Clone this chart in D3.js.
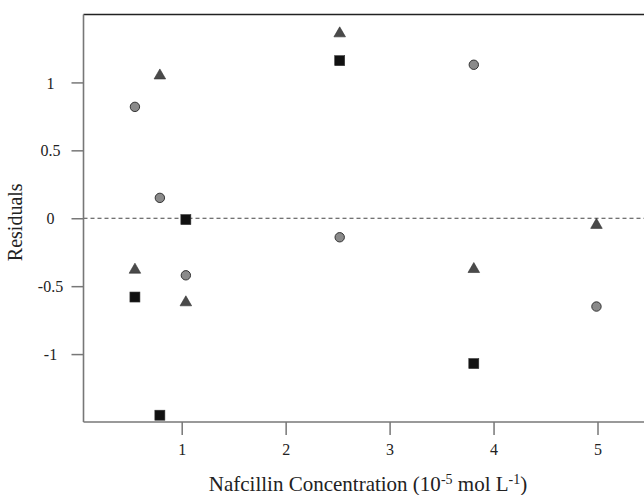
<!DOCTYPE html>
<html>
<head>
<meta charset="utf-8">
<script src="https://cdn.jsdelivr.net/npm/d3@7"></script>
<style>
  html, body { margin: 0; padding: 0; background: #fff; }
  svg { display: block; font-family: "Liberation Serif", "Times New Roman", serif; }
</style>
</head>
<body>
<svg id="chart" width="644" height="495"></svg>
<script>
// Residuals per series
const circleX = [0.55, 0.79, 1.04, 2.52, 3.81, 4.99];
const circleY = [0.82, 0.15, -0.42, -0.14, 1.13, -0.65];

const triangleX = [0.79, 0.55, 1.04, 2.52, 3.81, 4.99];
const triangleY = [1.05, -0.38, -0.62, 1.36, -0.375, -0.05];

const squareX = [0.55, 0.79, 1.04, 2.52, 3.81];
const squareY = [-0.58, -1.45, -0.01, 1.16, -1.07];

const xTicks = [1, 2, 3, 4, 5];
const yTicks = [1, 0.5, 0, -0.5, -1];

const svg = d3.select('#chart');

// Plot frame
const plotLeft = 83.5, plotTop = 14.5, plotBottom = 422, plotRight = 660;

const xScale = d3.scaleLinear().domain([1, 5]).range([181.7, 597.5]),
    yScale = d3.scaleLinear().domain([-1.5, 1.5]).range([plotBottom, plotTop]);

const axisColor = '#777';

// Top border
svg.append('line')
    .attr('x1', plotLeft).attr('x2', plotRight)
    .attr('y1', plotTop).attr('y2', plotTop)
    .attr('stroke', '#222').attr('stroke-width', 1.6);

// Zero reference line
svg.append('line')
    .attr('x1', plotLeft).attr('x2', plotRight)
    .attr('y1', yScale(0)).attr('y2', yScale(0))
    .attr('stroke', '#444').attr('stroke-width', 1)
    .attr('stroke-dasharray', '4,3');

// Axes
const yAxis = d3.axisLeft(yScale).tickValues(yTicks).tickSize(12).tickPadding(0)
    .tickFormat(d => d === 0 ? '0' : String(d));
const xAxis = d3.axisBottom(xScale).tickValues(xTicks).tickSize(13).tickPadding(9)
    .tickFormat(d3.format('d'));

const yG = svg.append('g').attr('transform', 'translate(' + plotLeft + ',0)').call(yAxis);
const xG = svg.append('g').attr('transform', 'translate(0,' + plotBottom + ')').call(xAxis);

[yG, xG].forEach(g => {
    g.select('.domain').remove();
    g.selectAll('.tick line').attr('stroke', axisColor).attr('stroke-width', 1.5);
    g.selectAll('.tick text')
        .attr('fill', '#222')
        .style('font-family', '"Liberation Serif", serif')
        .style('font-size', '16px');
});
yG.selectAll('.tick text').attr('x', -33).attr('text-anchor', 'middle').attr('dy', '0.35em');

// Left and bottom axis lines
svg.append('line')
    .attr('x1', plotLeft).attr('x2', plotLeft).attr('y1', plotTop).attr('y2', plotBottom)
    .attr('stroke', axisColor).attr('stroke-width', 1.6);
svg.append('line')
    .attr('x1', plotLeft).attr('x2', plotRight).attr('y1', plotBottom).attr('y2', plotBottom)
    .attr('stroke', axisColor).attr('stroke-width', 1.6);

// Axis titles
svg.append('text')
    .attr('transform', 'translate(22,' + ((plotTop + plotBottom) / 2 + 4) + ') rotate(-90)')
    .attr('text-anchor', 'middle')
    .attr('fill', '#222')
    .style('font-size', '20px')
    .text('Residuals');

const xTitle = svg.append('text')
    .attr('x', 368).attr('y', 491)
    .attr('text-anchor', 'middle')
    .attr('fill', '#222')
    .style('font-size', '21px');
xTitle.append('tspan').text('Nafcillin Concentration (10');
xTitle.append('tspan').attr('dy', -7).style('font-size', '14px').text('-5');
xTitle.append('tspan').attr('dy', 7).text(' mol L');
xTitle.append('tspan').attr('dy', -7).style('font-size', '14px').text('-1');
xTitle.append('tspan').attr('dy', 7).text(')');

// Points
const points = svg.append('g').attr('class', 'items');

const zip = (xs, ys) => xs.map((x, i) => ({ x: x, y: ys[i] }));

points.selectAll('circle.c').data(zip(circleX, circleY))
    .enter().append('circle')
    .attr('class', 'c')
    .attr('cx', d => xScale(d.x))
    .attr('cy', d => yScale(d.y))
    .attr('r', 4.7)
    .attr('fill', '#8a8a8a')
    .attr('stroke', '#333')
    .attr('stroke-width', 1);

points.selectAll('path.t').data(zip(triangleX, triangleY))
    .enter().append('path')
    .attr('class', 't')
    .attr('d', d3.symbol().type(d3.symbolTriangle).size(58))
    .attr('transform', d => 'translate(' + xScale(d.x) + ',' + yScale(d.y) + ')')
    .attr('fill', '#4a4a4a')
    .attr('stroke', '#333')
    .attr('stroke-width', 0.6);

points.selectAll('rect.s').data(zip(squareX, squareY))
    .enter().append('rect')
    .attr('class', 's')
    .attr('x', d => xScale(d.x) - 5)
    .attr('y', d => yScale(d.y) - 5)
    .attr('width', 10)
    .attr('height', 10)
    .attr('fill', '#111')
    .attr('stroke', '#333')
    .attr('stroke-width', 0.6);
</script>
</body>
</html>
